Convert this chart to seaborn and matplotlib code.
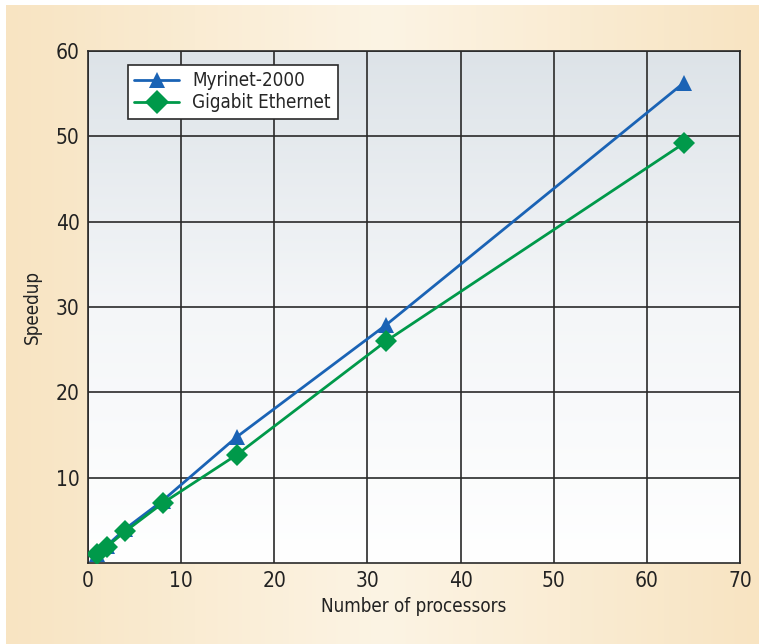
import numpy as np
import pandas as pd
import matplotlib
matplotlib.use("Agg")
import matplotlib.pyplot as plt
import seaborn as sns
from matplotlib.colors import LinearSegmentedColormap

processors = [1, 2, 4, 8, 16, 32, 64]
myrinet = [1.0, 2.0, 4.0, 7.3, 14.8, 27.9, 56.3]
gigabit = [1.0, 1.9, 3.7, 7.0, 12.7, 26.0, 49.2]
series_names = ["Myrinet-2000", "Gigabit Ethernet"]
x_ticks = [0, 10, 20, 30, 40, 50, 60, 70]
y_ticks = [10, 20, 30, 40, 50, 60]

df = pd.DataFrame({
    "Number of processors": processors * 2,
    "Speedup": myrinet + gigabit,
    "Network": [series_names[0]] * len(processors) + [series_names[1]] * len(processors),
})

sns.set_theme(style="white")
plt.rcParams['font.family'] = ['DejaVu Sans']
plt.rcParams['font.stretch'] = 'condensed'

W, H = 759, 644
fig = plt.figure(figsize=(W / 100, H / 100), dpi=100)
fig.patch.set_facecolor("white")

bg_ax = fig.add_axes([6 / W, 0, 1 - 6 / W, 1 - 5 / H], zorder=-10)
bg_cmap = LinearSegmentedColormap.from_list("bg", ["#f8e4c2", "#fcf4e4", "#f8e4c2"])
grad = np.linspace(0, 1, 256).reshape(1, -1)
bg_ax.imshow(grad, aspect="auto", cmap=bg_cmap, extent=[0, 1, 0, 1])
bg_ax.axis("off")

left, right = 88 / W, 740 / W
bottom, top = 1 - 563 / H, 1 - 51 / H
ax = fig.add_axes([left, bottom, right - left, top - bottom])

ax_cmap = LinearSegmentedColormap.from_list("axbg", ["#ffffff", "#f4f6f8", "#dde3e8"])
vgrad = np.linspace(0, 1, 256).reshape(-1, 1)
ax.imshow(vgrad, aspect="auto", cmap=ax_cmap, extent=[0, 70, 0, 60], origin="lower", zorder=0)

palette = {series_names[0]: "#1a63b5", series_names[1]: "#00994a"}
markers = {series_names[0]: "^", series_names[1]: "D"}
sns.lineplot(data=df, x="Number of processors", y="Speedup", hue="Network", style="Network",
             palette=palette, markers=markers, dashes=False, linewidth=2.0, markersize=11,
             markeredgewidth=0, ax=ax, zorder=5, legend=True)

ax.set_xlim(0, 70)
ax.set_ylim(0, 60)
ax.set_xticks(x_ticks)
ax.set_yticks(y_ticks)
ax.grid(True, color="#2a2a2a", linewidth=1.2)
for s in ax.spines.values():
    s.set_color("#2a2a2a")
    s.set_linewidth(1.2)
ax.tick_params(axis="both", length=0, labelsize=15, colors="#222222", pad=6)
ax.set_xlabel("Number of processors", fontsize=13.5, color="#222222", labelpad=4)
ax.set_ylabel("Speedup", fontsize=13.5, color="#222222", labelpad=10)

for gl in ax.get_xgridlines() + ax.get_ygridlines():
    gl.set_zorder(1)

leg = ax.legend(loc="upper left", bbox_to_anchor=(0.061, 0.973), borderaxespad=0, fontsize=13.5,
                frameon=True, fancybox=False, edgecolor="#2a2a2a", framealpha=1, facecolor="white",
                handlelength=2.4, borderpad=0.35, labelspacing=0.15, handletextpad=0.7,
                markerscale=1.1)
leg.get_frame().set_linewidth(1.2)
leg.set_zorder(10)

fig.savefig("out.png", dpi=100)
